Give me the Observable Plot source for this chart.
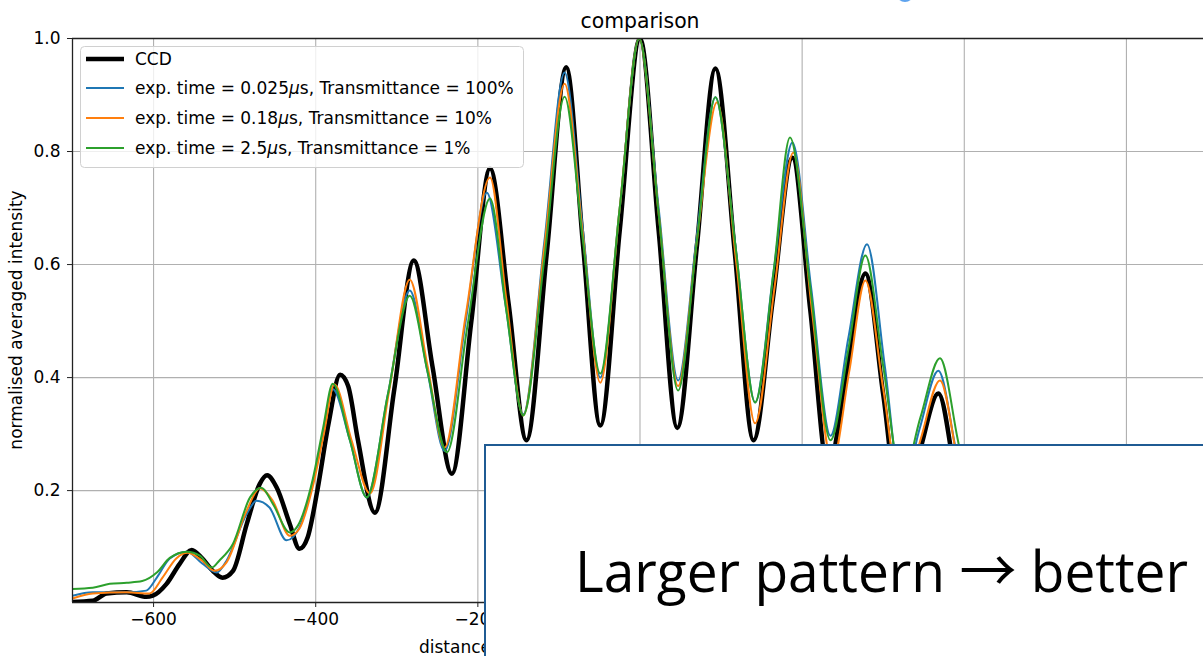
<!DOCTYPE html>
<html><head><meta charset="utf-8">
<script src="https://cdn.jsdelivr.net/npm/d3@7"></script>
<script src="https://cdn.jsdelivr.net/npm/@observablehq/plot@0.6"></script>
<style>
html,body{margin:0;padding:0;background:#fff;overflow:hidden}
#wrap{position:relative;width:1203px;height:656px;overflow:hidden;font-family:"DejaVu Sans",sans-serif;background:#fff}
#wrap svg{display:block}
.ov{position:absolute;left:0;top:0}
</style></head><body>
<div id="wrap"></div>
<script>
// ---- data (distance, normalised averaged intensity) ----
const xTicks = [-600, -400, -200, 0, 200, 400, 600];
const yTicks = [0.2, 0.4, 0.6, 0.8, 1.0];
const seriesNames = ["CCD", "exp. time = 0.025μs, Transmittance = 100%", "exp. time = 0.18μs, Transmittance = 10%", "exp. time = 2.5μs, Transmittance = 1%"];
const seriesColors = ["#000000", "#1f77b4", "#ff7f0e", "#2ca02c"];

const ccd = [[-701,0.003],[-675,0.005],[-658,0.018],[-633,0.02],[-609,0.012],[-601,0.014],[-584,0.035],[-568,0.07],[-553,0.095],[-540,0.08],[-527,0.058],[-515,0.046],[-502,0.058],[-485,0.141],[-469,0.212],[-460,0.227],[-448,0.205],[-432,0.141],[-420,0.097],[-410,0.117],[-398,0.2],[-384,0.32],[-370,0.405],[-360,0.385],[-348,0.29],[-327,0.161],[-303,0.38],[-279,0.607],[-256,0.42],[-232,0.23],[-208,0.5],[-185,0.77],[-162,0.53],[-140,0.289],[-115,0.62],[-91,0.949],[-70,0.63],[-49,0.315],[-25,0.66],[0,1.0],[23,0.66],[46,0.311],[70,0.63],[93,0.947],[117,0.62],[140,0.289],[164,0.54],[188,0.789],[210,0.52],[232,0.24],[255,0.41],[278,0.584],[300,0.37],[321,0.16],[345,0.27],[368,0.372],[390,0.22],[412,0.08],[435,0.14],[458,0.2],[481,0.12],[505,0.04],[528,0.065],[552,0.09],[576,0.05],[600,0.015],[648,0.01],[695,0.005]];

const blue = [[-700,0.014],[-675,0.02],[-633,0.02],[-609,0.023],[-596,0.046],[-580,0.08],[-559,0.092],[-540,0.071],[-522,0.055],[-510,0.076],[-485,0.159],[-473,0.182],[-457,0.17],[-436,0.112],[-420,0.135],[-404,0.212],[-391,0.30],[-379,0.38],[-358,0.29],[-337,0.188],[-311,0.37],[-284,0.554],[-262,0.41],[-241,0.27],[-215,0.50],[-189,0.727],[-166,0.53],[-144,0.335],[-118,0.64],[-93,0.94],[-71,0.67],[-49,0.40],[-25,0.70],[-1,1.0],[23,0.70],[47,0.395],[70,0.65],[93,0.896],[118,0.63],[142,0.356],[165,0.59],[188,0.816],[211,0.56],[235,0.297],[257,0.47],[280,0.636],[302,0.42],[323,0.2],[345,0.31],[368,0.412],[390,0.27],[412,0.12],[435,0.17],[458,0.22],[481,0.14],[505,0.06],[528,0.08],[552,0.1],[576,0.065],[600,0.03],[648,0.025],[695,0.02]];

const orange = [[-700,0.009],[-675,0.018],[-633,0.02],[-605,0.018],[-589,0.046],[-572,0.08],[-558,0.09],[-540,0.076],[-525,0.058],[-510,0.073],[-485,0.165],[-469,0.204],[-453,0.182],[-432,0.12],[-420,0.133],[-404,0.205],[-390,0.30],[-377,0.388],[-356,0.29],[-333,0.195],[-309,0.38],[-284,0.573],[-262,0.42],[-241,0.276],[-215,0.51],[-185,0.754],[-165,0.54],[-144,0.333],[-118,0.63],[-93,0.92],[-71,0.66],[-49,0.391],[-25,0.70],[-1,1.0],[23,0.69],[47,0.385],[70,0.64],[95,0.887],[119,0.60],[142,0.319],[166,0.56],[189,0.798],[212,0.52],[237,0.25],[258,0.41],[278,0.572],[300,0.38],[323,0.18],[346,0.29],[370,0.395],[392,0.25],[414,0.1],[437,0.16],[460,0.21],[483,0.13],[507,0.05],[530,0.075],[554,0.095],[578,0.06],[602,0.02],[648,0.012],[695,0.008]];

const green = [[-700,0.026],[-675,0.028],[-654,0.035],[-633,0.037],[-614,0.04],[-596,0.055],[-580,0.081],[-559,0.092],[-543,0.085],[-528,0.064],[-519,0.076],[-502,0.106],[-481,0.188],[-467,0.205],[-453,0.177],[-432,0.126],[-422,0.138],[-404,0.218],[-391,0.31],[-379,0.389],[-358,0.29],[-337,0.188],[-311,0.37],[-284,0.545],[-262,0.41],[-238,0.268],[-213,0.49],[-185,0.717],[-165,0.52],[-144,0.333],[-118,0.61],[-93,0.897],[-71,0.65],[-49,0.407],[-25,0.70],[-1,1.0],[23,0.69],[47,0.377],[70,0.64],[93,0.896],[118,0.63],[142,0.356],[165,0.59],[185,0.825],[210,0.56],[235,0.289],[257,0.45],[278,0.616],[300,0.42],[323,0.22],[346,0.33],[370,0.434],[392,0.29],[414,0.13],[437,0.18],[460,0.23],[483,0.15],[507,0.07],[530,0.09],[554,0.11],[578,0.07],[602,0.035],[648,0.03],[695,0.028]];

const seriesData = [ccd, blue, orange, green];
const seriesWidths = [4.5, 2, 2, 2];

const yMin = 0.002, yMax = 1.0;
const FS = 17;

const lineMarks = seriesData.map((d, i) => Plot.line(d, {
  x: p => p[0], y: p => p[1], stroke: seriesColors[i], strokeWidth: seriesWidths[i],
  curve: "monotone-x", clip: true, strokeLinejoin: "round"
}));

const chart = Plot.plot({
  width: 1203, height: 656,
  marginTop: 38, marginBottom: 54, marginLeft: 72, marginRight: -4,
  x: {domain: [-700, 700]},
  y: {domain: [yMin, yMax]},
  style: {fontFamily: "DejaVu Sans", fontSize: FS + "px", color: "black", background: "white"},
  marks: [
    Plot.gridX(xTicks, {stroke: "#b0b0b0", strokeOpacity: 1, strokeWidth: 1.1}),
    Plot.gridY(yTicks, {stroke: "#b0b0b0", strokeOpacity: 1, strokeWidth: 1.1}),
    ...lineMarks,
    Plot.ruleY([yMax], {stroke: "#222", strokeWidth: 1.3}),
    Plot.ruleY([yMin], {stroke: "#222", strokeWidth: 1.3}),
    Plot.ruleX([-700], {stroke: "#222", strokeWidth: 1.3}),
    Plot.axisX(xTicks, {tickSize: 5, tickPadding: 5, label: null, fontSize: FS, stroke: "#222"}),
    Plot.axisY(yTicks, {tickSize: 5, tickPadding: 7, label: null, fontSize: FS, tickFormat: d3.format(".1f"), stroke: "#222"})
  ]
});
const wrap = document.getElementById("wrap");
wrap.appendChild(chart);

// ---- overlay: title, axis labels, legend, annotation box ----
const NS = "http://www.w3.org/2000/svg";
const ov = document.createElementNS(NS, "svg");
ov.setAttribute("class", "ov");
ov.setAttribute("width", 1203);
ov.setAttribute("height", 656);
ov.style.fontFamily = "DejaVu Sans";
function el(tag, attrs, parent) {
  const e = document.createElementNS(NS, tag);
  for (const k in attrs) e.setAttribute(k, attrs[k]);
  (parent || ov).appendChild(e);
  return e;
}
// title
const t = el("text", {x: 640, y: 28, "text-anchor": "middle", "font-size": 20.4, fill: "#000"});
t.textContent = "comparison";
// y label
const yl = el("text", {transform: "translate(22,320) rotate(-90)", "text-anchor": "middle", "font-size": FS, fill: "#000"});
yl.textContent = "normalised averaged intensity";
// x label (its end is hidden by the annotation box)
const xl = el("text", {x: 419, y: 653, "font-size": FS, fill: "#000"});
xl.textContent = "distance";

// legend
const lg = el("g", {});
el("rect", {x: 80.5, y: 46.5, width: 443, height: 121, rx: 4, fill: "white", "fill-opacity": 0.8, stroke: "#d0d0d0", "stroke-width": 1}, lg);
const legY = [59, 88, 118, 148];
seriesNames.forEach((name, i) => {
  el("line", {x1: 86, x2: 124, y1: legY[i], y2: legY[i], stroke: seriesColors[i], "stroke-width": seriesWidths[i]}, lg);
  const tx = el("text", {x: 135, y: legY[i] + 6, "font-size": FS, fill: "#000"}, lg);
  const parts = name.split("μ");
  if (parts.length === 1) { tx.textContent = name; }
  else {
    const a = el("tspan", {}, tx); a.textContent = parts[0];
    const m = el("tspan", {"font-style": "italic"}, tx); m.textContent = "μ";
    const b = el("tspan", {}, tx); b.textContent = parts[1];
  }
});

// annotation box
el("rect", {x: 485, y: 445, width: 800, height: 300, fill: "white", stroke: "#1f5b93", "stroke-width": 2});
const at = el("text", {x: 575, y: 592, "font-size": 56, fill: "#000", "font-family": "Open Sans", textLength: 613, lengthAdjust: "spacingAndGlyphs"});
const a1 = el("tspan", {}, at); a1.textContent = "Larger pattern ";
const a2 = el("tspan", {"font-family": "Noto Sans CJK JP", "font-size": 58}, at); a2.textContent = "→";
const a3 = el("tspan", {}, at); a3.textContent = " better";
// small blue shape fragment at top edge
el("ellipse", {cx: 905, cy: -5, rx: 8, ry: 7, fill: "#5ea3ee"});

wrap.appendChild(ov);
</script>
</body></html>
